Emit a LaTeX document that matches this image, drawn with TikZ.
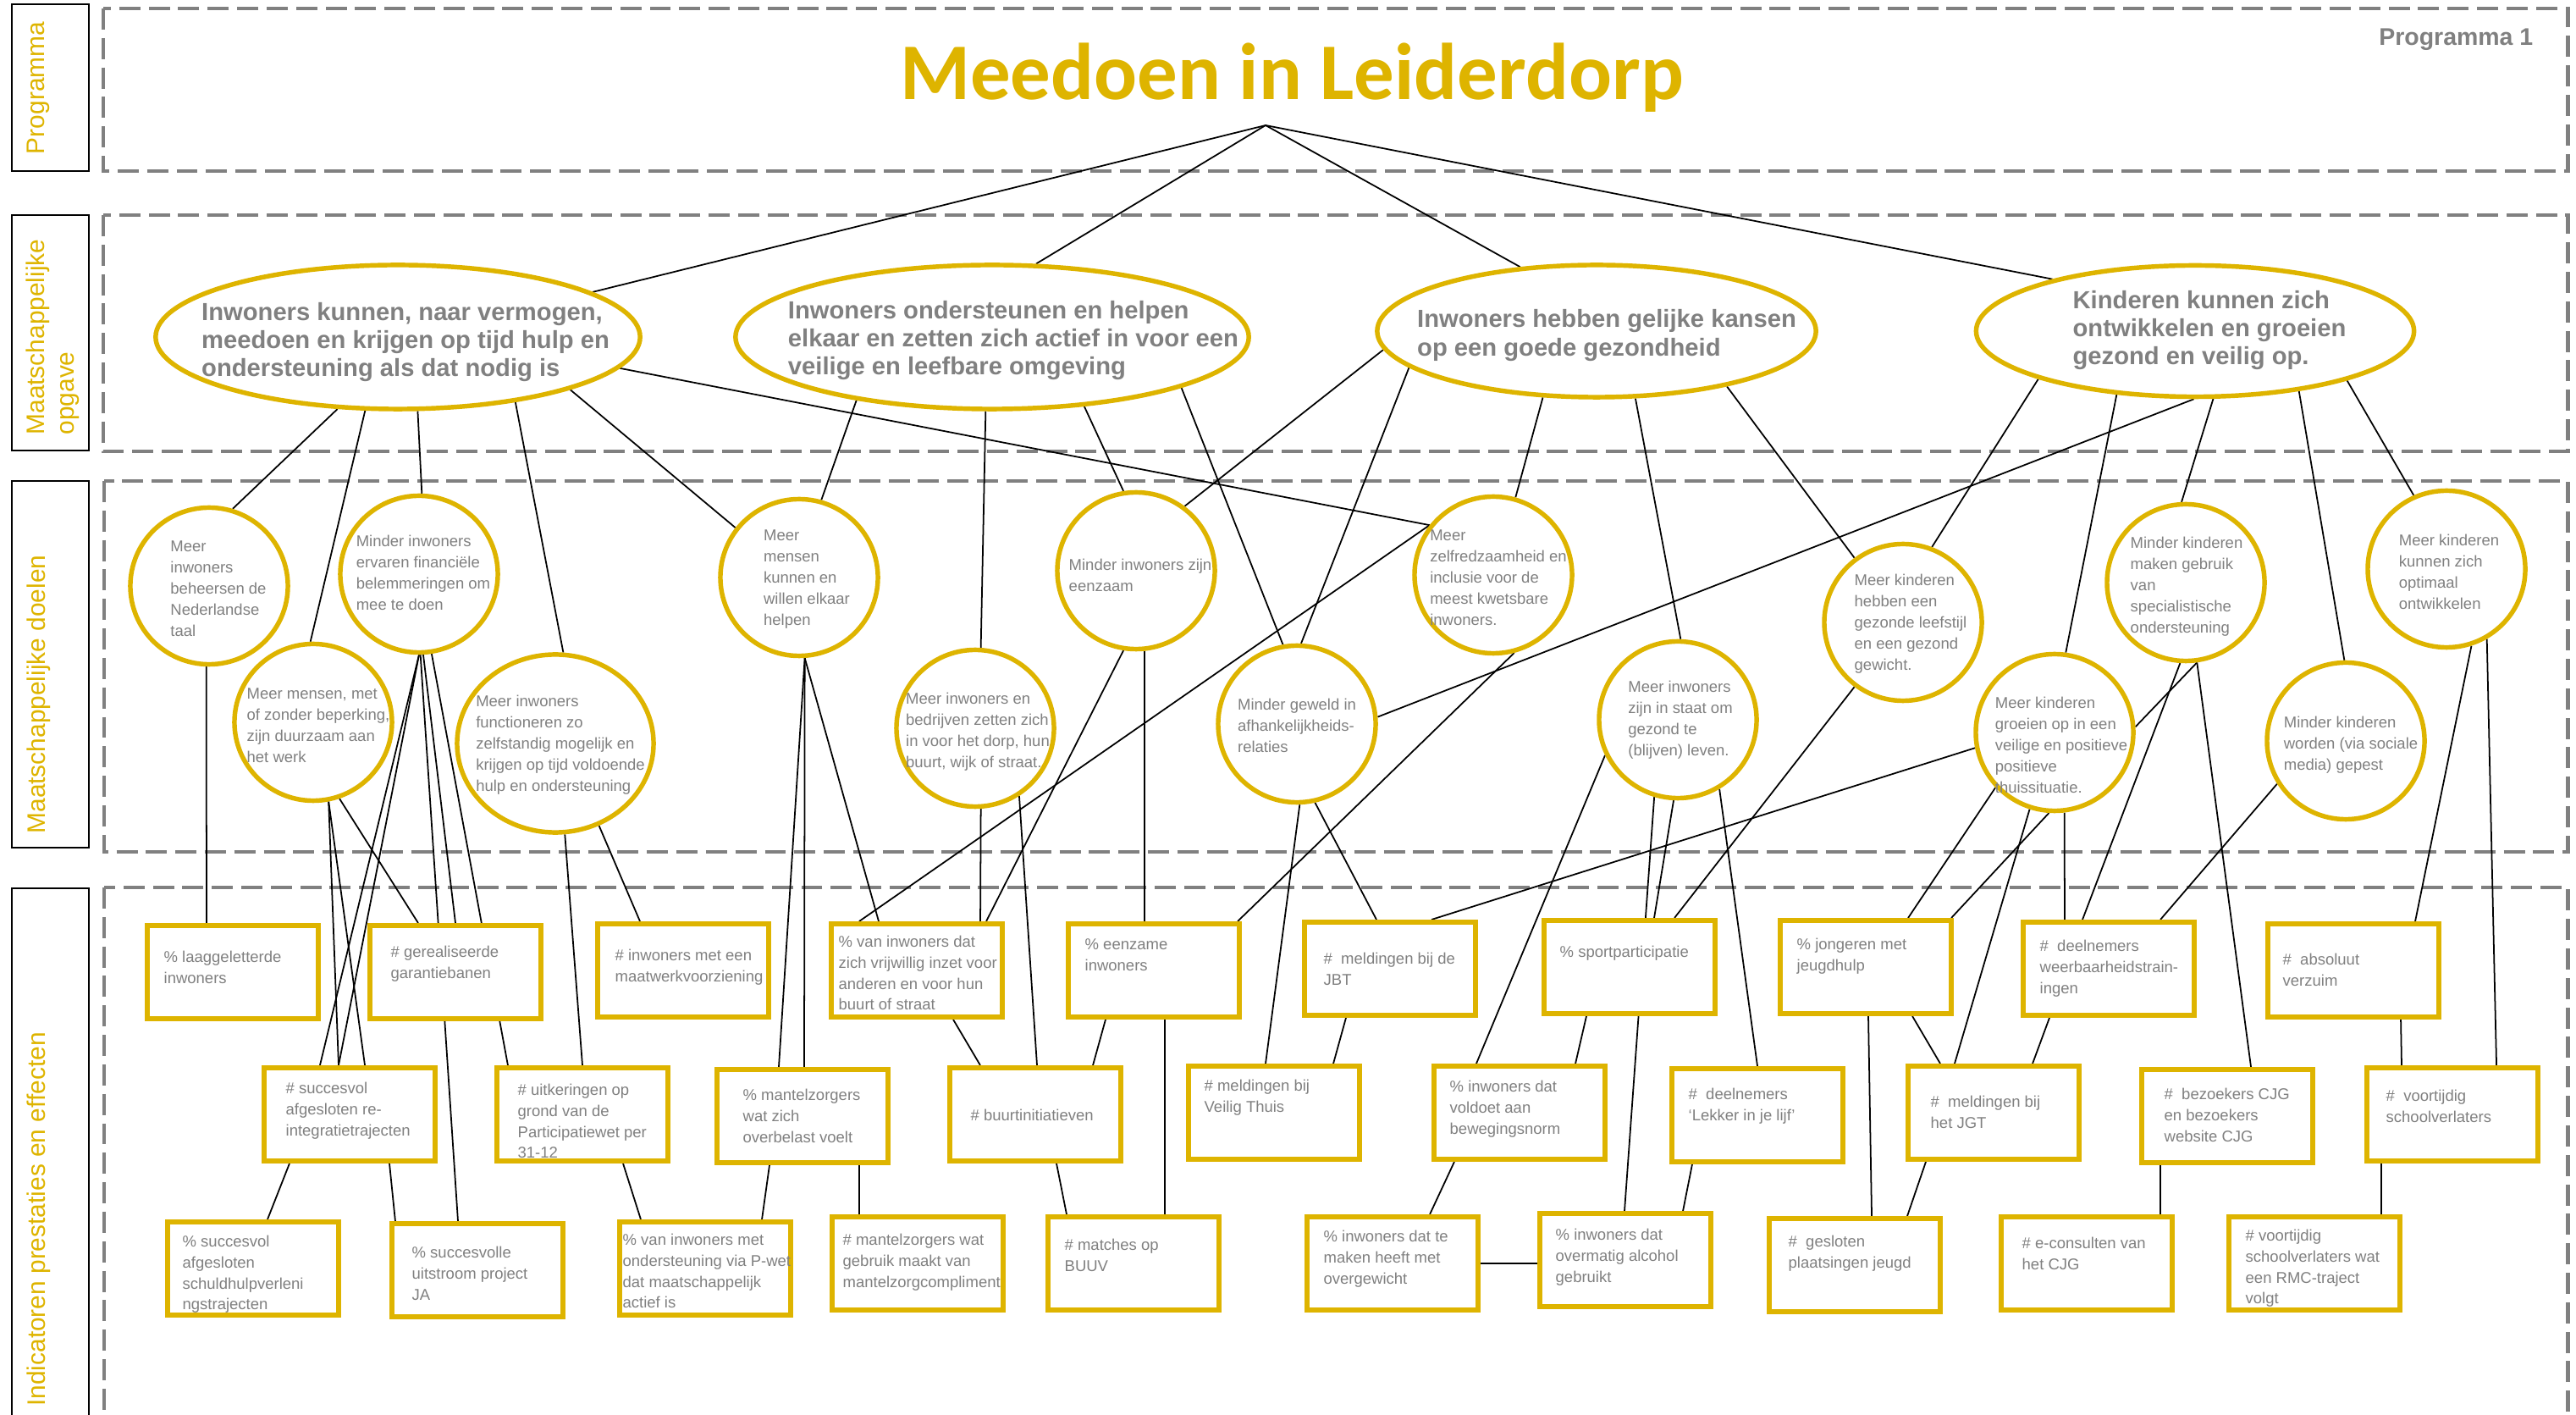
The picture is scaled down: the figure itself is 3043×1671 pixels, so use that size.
\documentclass[tikz,border=0pt]{standalone}
\usepackage{fontspec}
\setmainfont{Liberation Sans}
\newfontfamily\titelfont{Carlito}
\usetikzlibrary{shapes.geometric,backgrounds}

\definecolor{geel}{RGB}{222,180,0}
\definecolor{grijs}{RGB}{128,128,128}
\newcommand{\klein}{\fontsize{5.26}{7.1}\selectfont}

\tikzset{
  lijn/.style={black, line width=0.5pt},
  laag/.style={draw=grijs, line width=1.4pt, dash pattern=on 7.1pt off 2.8pt},
  zijvak/.style={draw=black, line width=0.6pt},
  zijtekst/.style={rotate=90, anchor=north, inner sep=0pt, align=left, text=geel,
    font=\fontsize{8.5}{10}\selectfont},
  opgave/.style={ellipse, draw=geel, line width=1.55pt, fill=white, inner sep=0pt},
  opgavetekst/.style={inner sep=0pt, align=left, text=grijs,
    font=\bfseries\fontsize{8.3}{9.5}\selectfont},
  doel/.style={ellipse, draw=geel, line width=1.55pt, fill=white, inner sep=0pt,
    minimum width=1.86cm, minimum height=1.85cm},
  doeltekst/.style={inner sep=0pt, align=left, text=grijs, font=\klein},
  ind/.style={rectangle, draw=geel, line width=1.7pt, fill=white, inner sep=0pt,
    minimum width=2.02cm, minimum height=1.10cm},
  indtekst/.style={anchor=north west, inner sep=0pt, align=left, text=grijs, font=\klein}
}

\begin{document}
\begin{tikzpicture}[x=0.01cm, y=-0.01cm]
    \useasboundingbox (0,0) rectangle (3043,1671);

    % linker kolom
    \draw[zijvak] (14,5) rectangle (105,202);
    \draw[zijvak] (14,254) rectangle (105,532);
    \draw[zijvak] (14,568) rectangle (105,1001);
    \draw[zijvak] (14,1049) rectangle (105,1800);
    \node[zijtekst] (zt1) at (31,104) {Programma};
    \node[zijtekst] (zt2) at (30,398) {Maatschappelijke\\opgave};
    \node[zijtekst] (zt3) at (31,820) {Maatschappelijke doelen};
    \node[zijtekst] (zt4) at (31,1440) {Indicatoren prestaties en effecten};

    % programma
    \node[text=geel, font=\titelfont\bfseries\fontsize{27}{30}\selectfont, anchor=base, inner sep=0pt] (titel) at (1526,118) {Meedoen in Leiderdorp};
    \node[text=grijs, font=\bfseries\fontsize{8.1}{9}\selectfont, anchor=base east, inner sep=0pt] (prog) at (2993,54) {Programma 1};
    \coordinate (top) at (1495,148);

    % maatschappelijke opgave
    \node[opgave, minimum width=5.72cm, minimum height=1.70cm] (e1) at (470,398) {};
    \node[opgavetekst] (e1t) at ([shift={(9,6)}]e1.center) {Inwoners kunnen, naar vermogen,\\meedoen en krijgen op tijd hulp en\\ondersteuning als dat nodig is};

    \node[opgave, minimum width=6.06cm, minimum height=1.70cm] (e2) at (1172,398) {};
    \node[opgavetekst] (e2t) at ([shift={(25,4)}]e2.center) {Inwoners ondersteunen en helpen\\elkaar en zetten zich actief in voor een\\veilige en leefbare omgeving};

    \node[opgave, minimum width=5.18cm, minimum height=1.56cm] (e3) at (1886,391) {};
    \node[opgavetekst] (e3t) at ([shift={(12,5)}]e3.center) {Inwoners hebben gelijke kansen\\op een goede gezondheid};

    \node[opgave, minimum width=5.17cm, minimum height=1.55cm] (e4) at (2593,391) {};
    \node[opgavetekst] (e4t) at ([shift={(17,-1)}]e4.center) {Kinderen kunnen zich\\ontwikkelen en groeien\\gezond en veilig op.};

    % maatschappelijke doelen
    \node[doel] (c1) at (247,692) {};
    \node[doeltekst] (c1t) at ([shift={(11,3)}]c1.center) {Meer\\inwoners\\beheersen de\\Nederlandse\\taal};

    \node[doel] (c2) at (495,678) {};
    \node[doeltekst] (c2t) at ([shift={(5,-2)}]c2.center) {Minder inwoners\\ervaren financiële\\belemmeringen om\\mee te doen};

    \node[doel] (c3) at (370,853) {};
    \node[doeltekst] (c3t) at ([shift={(6,4)}]c3.center) {Meer mensen, met\\of zonder beperking,\\zijn duurzaam aan\\het werk};

    \node[doel, minimum width=2.32cm, minimum height=2.10cm] (c4) at (656,878) {};
    \node[doeltekst] (c4t) at ([shift={(6,2)}]c4.center) {Meer inwoners\\functioneren zo\\zelfstandig mogelijk en\\krijgen op tijd voldoende\\hulp en ondersteuning};

    \node[doel] (c5) at (944,682) {};
    \node[doeltekst] (c5t) at ([shift={(9,2)}]c5.center) {Meer\\mensen\\kunnen en\\willen elkaar\\helpen};

    \node[doel] (c6) at (1152,860) {};
    \node[doeltekst] (c6t) at ([shift={(3,4)}]c6.center) {Meer inwoners en\\bedrijven zetten zich\\in voor het dorp, hun\\buurt, wijk of straat.};

    \node[doel] (c7) at (1342,674) {};
    \node[doeltekst] (c7t) at ([shift={(5,5)}]c7.center) {Minder inwoners zijn\\eenzaam};

    \node[doel] (c8) at (1532,855) {};
    \node[doeltekst] (c8t) at ([shift={(0,2)}]c8.center) {Minder geweld in\\afhankelijkheids-\\relaties};

    \node[doel] (c9) at (1764,679) {};
    \node[doeltekst] (c9t) at ([shift={(6,3)}]c9.center) {Meer\\zelfredzaamheid en\\inclusie voor de\\meest kwetsbare\\inwoners.};

    \node[doel] (c10) at (1982,850) {};
    \node[doeltekst] (c10t) at ([shift={(3,0)}]c10.center) {Meer inwoners\\zijn in staat om\\gezond te\\(blijven) leven.};

    \node[doel] (c11) at (2248,735) {};
    \node[doeltekst] (c11t) at ([shift={(9,2)}]c11.center) {Meer kinderen\\hebben een\\gezonde leefstijl\\en een gezond\\gewicht.};

    \node[doel] (c12) at (2427,865) {};
    \node[doeltekst] (c12t) at ([shift={(8,15)}]c12.center) {Meer kinderen\\groeien op in een\\veilige en positieve\\positieve\\thuissituatie.};

    \node[doel] (c13) at (2582,688) {};
    \node[doeltekst] (c13t) at ([shift={(1,5)}]c13.center) {Minder kinderen\\maken gebruik\\van\\specialistische\\ondersteuning};

    \node[doel] (c14) at (2771,875) {};
    \node[doeltekst] (c14t) at ([shift={(6,5)}]c14.center) {Minder kinderen\\worden (via sociale\\media) gepest};

    \node[doel] (c15) at (2890,672) {};
    \node[doeltekst] (c15t) at ([shift={(3,3)}]c15.center) {Meer kinderen\\kunnen zich\\optimaal\\ontwikkelen};

    % indicatoren, bovenste rij
    \node[ind] (b1) at (275,1148) {};
    \node[indtekst] (b1t) at ([shift={(22,32)}]b1.north west) {\% laaggeletterde\\inwoners};
    \node[ind] (b2) at (538,1148) {};
    \node[indtekst] (b2t) at ([shift={(27,26)}]b2.north west) {\# gerealiseerde\\garantiebanen};
    \node[ind] (b3) at (807,1146) {};
    \node[indtekst] (b3t) at ([shift={(23,32)}]b3.north west) {\# inwoners met een\\maatwerkvoorziening};
    \node[ind] (b4) at (1083,1146) {};
    \node[indtekst] (b4t) at ([shift={(11,16)}]b4.north west) {\% van inwoners dat\\zich vrijwillig inzet voor\\anderen en voor hun\\buurt of straat};
    \node[ind] (b5) at (1363,1146) {};
    \node[indtekst] (b5t) at ([shift={(22,20)}]b5.north west) {\% eenzame\\inwoners};
    \node[ind] (b6) at (1642,1144) {};
    \node[indtekst] (b6t) at ([shift={(25,38)}]b6.north west) {\#~ meldingen bij de\\JBT};
    \node[ind] (b7) at (1925,1142) {};
    \node[indtekst] (b7t) at ([shift={(21,32)}]b7.north west) {\% sportparticipatie};
    \node[ind] (b8) at (2204,1142) {};
    \node[indtekst] (b8t) at ([shift={(22,23)}]b8.north west) {\% jongeren met\\jeugdhulp};
    \node[ind] (b9) at (2491,1144) {};
    \node[indtekst] (b9t) at ([shift={(22,23)}]b9.north west) {\#~ deelnemers\\weerbaarheidstrain-\\ingen};
    \node[ind] (b10) at (2780,1146) {};
    \node[indtekst] (b10t) at ([shift={(20,37)}]b10.north west) {\#~ absoluut\\verzuim};

    % indicatoren, middelste rij
    \node[ind] (b11) at (413,1316) {};
    \node[indtekst] (b11t) at ([shift={(28,19)}]b11.north west) {\# succesvol\\afgesloten re-\\integratietrajecten};
    \node[ind] (b12) at (688,1316) {};
    \node[indtekst] (b12t) at ([shift={(27,21)}]b12.north west) {\# uitkeringen op\\grond van de\\Participatiewet per\\31-12};
    \node[ind] (b13) at (948,1318) {};
    \node[indtekst] (b13t) at ([shift={(33,25)}]b13.north west) {\% mantelzorgers\\wat zich\\overbelast voelt};
    \node[ind] (b14) at (1223,1316) {};
    \node[indtekst] (b14t) at ([shift={(27,51)}]b14.north west) {\# buurtinitiatieven};
    \node[ind] (b15) at (1505,1314) {};
    \node[indtekst] (b15t) at ([shift={(21,18)}]b15.north west) {\# meldingen bij\\Veilig Thuis};
    \node[ind] (b16) at (1795,1314) {};
    \node[indtekst] (b16t) at ([shift={(21,19)}]b16.north west) {\% inwoners dat\\voldoet aan\\bewegingsnorm};
    \node[ind] (b17) at (2076,1317) {};
    \node[indtekst] (b17t) at ([shift={(22,25)}]b17.north west) {\#~ deelnemers\\‘Lekker in je lijf’};
    \node[ind] (b18) at (2355,1314) {};
    \node[indtekst] (b18t) at ([shift={(29,37)}]b18.north west) {\#~ meldingen bij\\het JGT};
    \node[ind] (b19) at (2631,1318) {};
    \node[indtekst] (b19t) at ([shift={(29,24)}]b19.north west) {\#~ bezoekers CJG\\en bezoekers\\website CJG};
    \node[ind] (b20) at (2897,1316) {};
    \node[indtekst] (b20t) at ([shift={(25,28)}]b20.north west) {\#~ voortijdig\\schoolverlaters};

    % indicatoren, onderste rij
    \node[ind] (b21) at (299,1498) {};
    \node[indtekst] (b21t) at ([shift={(20,18)}]b21.north west) {\% succesvol\\afgesloten\\schuldhulpverleni\\ngstrajecten};
    \node[ind] (b22) at (564,1500) {};
    \node[indtekst] (b22t) at ([shift={(26,29)}]b22.north west) {\% succesvolle\\uitstroom project\\JA};
    \node[ind] (b23) at (833,1498) {};
    \node[indtekst] (b23t) at ([shift={(6,16)}]b23.north west) {\% van inwoners met\\ondersteuning via P-wet\\dat maatschappelijk\\actief is};
    \node[ind] (b24) at (1084,1492) {};
    \node[indtekst] (b24t) at ([shift={(15,22)}]b24.north west) {\# mantelzorgers wat\\gebruik maakt van\\mantelzorgcompliment};
    \node[ind] (b25) at (1339,1492) {};
    \node[indtekst] (b25t) at ([shift={(22,28)}]b25.north west) {\# matches op\\BUUV};
    \node[ind] (b26) at (1645,1492) {};
    \node[indtekst] (b26t) at ([shift={(22,18)}]b26.north west) {\% inwoners dat te\\maken heeft met\\overgewicht};
    \node[ind] (b27) at (1920,1488) {};
    \node[indtekst] (b27t) at ([shift={(21,20)}]b27.north west) {\% inwoners dat\\overmatig alcohol\\gebruikt};
    \node[ind] (b28) at (2191,1494) {};
    \node[indtekst] (b28t) at ([shift={(25,22)}]b28.north west) {\#~ gesloten\\plaatsingen jeugd};
    \node[ind] (b29) at (2465,1492) {};
    \node[indtekst] (b29t) at ([shift={(27,26)}]b29.north west) {\# e-consulten van\\het CJG};
    \node[ind] (b30) at (2734,1492) {};
    \node[indtekst] (b30t) at ([shift={(22,17)}]b30.north west) {\# voortijdig\\schoolverlaters wat\\een RMC-traject\\volgt};

    \begin{scope}[on background layer]
      % lagen
      \draw[laag] (122,10) rectangle (3033,202);
      \draw[laag] (122,254) rectangle (3033,533);
      \draw[laag] (123,568) rectangle (3033,1006);
      \draw[laag] (123,1048) rectangle (3033,1800);

      % programma naar opgaven
      \draw[lijn] (top) -- (e1.13);
      \draw[lijn] (top) -- (e2.59);
      \draw[lijn] (top) -- (e3.140);
      \draw[lijn] (top) -- (e4.160);

      % opgaven naar doelen
      \draw[lijn] (e1.-130) -- (c1.73);
      \draw[lijn] (e1.-114) -- (c3.92);
      \draw[lijn] (e1.-75) -- (c2.88);
      \draw[lijn] (e1.-29) -- (c4.85);
      \draw[lijn] (e1.-17) -- (c5.142);
      \draw[lijn] (e1.-8) -- (c9.142);
      \draw[lijn] (e2.-155) -- (c5.74);
      \draw[lijn] (e2.-95) -- (c6.86);
      \draw[lijn] (e2.-37) -- (c7.99);
      \draw[lijn] (e2.-15) -- (c8.100);
      \draw[lijn] (e3.-175) -- (c7.53);
      \draw[lijn] (e3.-169) -- (c8.87);
      \draw[lijn] (e3.-129) -- (c9.74);
      \draw[lijn] (e3.-60) -- (c10.88);
      \draw[lijn] (e3.-23) -- (c11.127);
      \draw[lijn] (e4.-163) -- (c11.69);
      \draw[lijn] (e4.-141) -- (c12.82);
      \draw[lijn] (e4.-91) -- (c8.5);
      \draw[lijn] (e4.-75) -- (c13.93);
      \draw[lijn] (e4.-30) -- (c14.91);
      \draw[lijn] (e4.-18) -- (c15.114);

      % doelen naar indicatoren
      \draw[lijn] (c1.-92) -- ([xshift=-0.31cm]b1.north);
      \draw[lijn] (c3.-79) -- ([xshift=-0.13cm]b11.north);
      \draw[lijn] (c3.-79) -- ([xshift=0.18cm]b11.north);
      \draw[lijn] (c2.-90) -- ([xshift=-0.35cm]b11.north);
      \draw[lijn] (c2.-90) -- ([xshift=-0.13cm]b11.north);
      \draw[lijn] (c3.-71) -- ([xshift=-0.44cm]b2.north);
      \draw[lijn] (c2.-89) -- ([xshift=-0.23cm]b22.north);
      \draw[lijn] (c2.-87) -- (b2.north);
      \draw[lijn] (c2.-81) -- ([xshift=-0.88cm]b12.north);
      \draw[lijn] (c4.-84) -- (b12.north);
      \draw[lijn] (c4.-62) -- ([xshift=-0.51cm]b3.north);
      \draw[lijn] (c5.-86) -- ([xshift=-0.28cm]b13.north);
      \draw[lijn] (c5.-86) -- ([xshift=0.02cm]b13.north);
      \draw[lijn] (c5.-86) -- ([xshift=-0.45cm]b4.north);
      \draw[lijn] (c9.142) -- ([xshift=-0.68cm]b4.north);
      \draw[lijn] (c6.-86) -- ([xshift=0.75cm]b4.north);
      \draw[lijn] (c7.-99) -- ([xshift=0.82cm]b4.north);
      \draw[lijn] (c6.-57) -- ([xshift=0.02cm]b14.north);
      \draw[lijn] (c7.-84) -- ([xshift=-0.11cm]b5.north);
      \draw[lijn] (c9.-75) -- ([xshift=0.99cm]b5.north);
      \draw[lijn] (c8.-88) -- ([xshift=-0.10cm]b15.north);
      \draw[lijn] (c8.-77) -- ([xshift=-0.16cm]b6.north);
      \draw[lijn] (c12.-169) -- ([xshift=0.49cm]b6.north);
      \draw[lijn] (c10.-154) -- ([xshift=-0.51cm]b16.north);
      \draw[lijn] (c10.-107) -- ([xshift=-0.01cm]b27.north);
      \draw[lijn] (c10.-93) -- ([xshift=0.29cm]b7.north);
      \draw[lijn] (c11.-127) -- ([xshift=0.53cm]b7.north);
      \draw[lijn] (c10.-59) -- (b17.north);
      \draw[lijn] (c12.-137) -- ([xshift=0.50cm]b8.north);
      \draw[lijn] (c12.-94) -- ([xshift=1.01cm]b8.north);
      \draw[lijn] (c12.-108) -- ([xshift=-0.46cm]b18.north);
      \draw[lijn] (c12.-83) -- ([xshift=-0.52cm]b9.north);
      \draw[lijn] (c13.-94) -- ([xshift=-0.31cm]b9.north);
      \draw[lijn] (c14.-148) -- ([xshift=0.61cm]b9.north);
      \draw[lijn] (c13.-82) -- ([xshift=0.28cm]b19.north);
      \draw[lijn] (c13.-82) -- (c12.4);
      \draw[lijn] (c15.-72) -- ([xshift=0.73cm]b10.north);
      \draw[lijn] (c15.-60) -- ([xshift=0.52cm]b20.north);

      % indicatoren onderling
      \draw[lijn] ([xshift=-0.71cm]b11.south) -- ([xshift=0.17cm]b21.north);
      \draw[lijn] ([xshift=0.47cm]b11.south) -- ([xshift=-0.97cm]b22.north);
      \draw[lijn] ([xshift=0.48cm]b12.south) -- ([xshift=-0.76cm]b23.north);
      \draw[lijn] ([xshift=-0.39cm]b13.south) -- ([xshift=0.67cm]b23.north);
      \draw[lijn] ([xshift=0.67cm]b13.south) -- ([xshift=-0.69cm]b24.north);
      \draw[lijn] ([xshift=0.43cm]b4.south) -- ([xshift=-0.65cm]b14.north);
      \draw[lijn] ([xshift=-0.57cm]b5.south) -- ([xshift=0.68cm]b14.north);
      \draw[lijn] ([xshift=0.13cm]b5.south) -- ([xshift=0.37cm]b25.north);
      \draw[lijn] ([xshift=0.25cm]b14.south) -- ([xshift=-0.79cm]b25.north);
      \draw[lijn] ([xshift=-0.52cm]b6.south) -- ([xshift=0.70cm]b15.north);
      \draw[lijn] ([xshift=-0.51cm]b7.south) -- ([xshift=0.66cm]b16.north);
      \draw[lijn] ([xshift=-0.77cm]b16.south) -- ([xshift=0.44cm]b26.north);
      \draw[lijn, line width=0.7pt] (b26.east) -- (b26.east -| b27.west);
      \draw[lijn] ([xshift=-0.77cm]b17.south) -- ([xshift=0.68cm]b27.north);
      \draw[lijn] ([xshift=0.03cm]b8.south) -- ([xshift=0.20cm]b28.north);
      \draw[lijn] ([xshift=0.55cm]b8.south) -- ([xshift=-0.63cm]b18.north);
      \draw[lijn] ([xshift=-0.80cm]b18.south) -- ([xshift=0.62cm]b28.north);
      \draw[lijn] ([xshift=-0.70cm]b9.south) -- ([xshift=0.46cm]b18.north);
      \draw[lijn] ([xshift=0.56cm]b10.south) -- ([xshift=-0.60cm]b20.north);
      \draw[lijn] ([xshift=-0.79cm]b19.south) -- ([xshift=0.87cm]b29.north);
      \draw[lijn] ([xshift=-0.84cm]b20.south) -- ([xshift=0.79cm]b30.north);
    \end{scope}
\end{tikzpicture}
\end{document}
